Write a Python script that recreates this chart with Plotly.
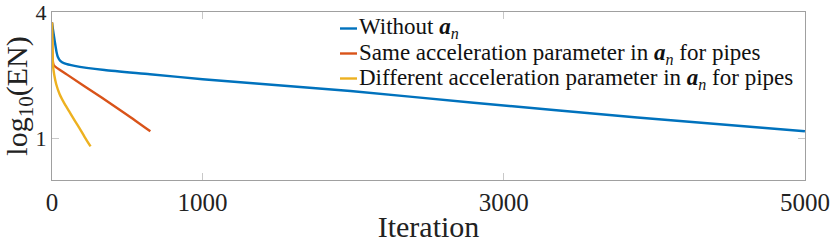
import plotly.graph_objects as go

# Data
blue_x = [0, 10, 19, 30, 39, 55, 83, 150, 349, 650, 1000, 1982, 2800, 3887, 5000]
blue_y = [3.75, 3.5, 3.29, 3.05, 2.93, 2.84, 2.78, 2.72, 2.62, 2.52, 2.40, 2.12, 1.84, 1.49, 1.16]

red_x = [0, 5, 12, 100, 327, 500, 653]
red_y = [3.75, 2.85, 2.73, 2.51, 1.97, 1.55, 1.16]

yellow_x = [0, 3, 6, 15, 28, 50, 83, 120, 150, 185, 216, 256]
yellow_y = [3.75, 3.2, 2.75, 2.5, 2.28, 2.05, 1.82, 1.6, 1.42, 1.22, 1.03, 0.80]

names = [
    "Without <b><i>a</i></b><sub><i>n</i></sub>",
    "Same acceleration parameter in <b><i>a</i></b><sub><i>n</i></sub> for pipes",
    "Different acceleration parameter in <b><i>a</i></b><sub><i>n</i></sub> for pipes",
]
colors = ["#0072BD", "#D95319", "#EDB120"]

x_ticks = [0, 1000, 3000, 5000]
y_ticks = [1, 4]

FONT = "Liberation Serif, serif"
W, H = 830, 243
L, R, T, B = 52, 25, 12, 63
PW, PH = W - L - R, H - T - B


def px_x(px):
    return (px - L) / PW


def px_y(py):
    return (H - B - py) / PH


fig = go.Figure()
for xs, ys, nm, c in zip([blue_x, red_x, yellow_x], [blue_y, red_y, yellow_y], names, colors):
    fig.add_trace(go.Scatter(x=xs, y=ys, mode="lines", name=nm, showlegend=False,
                             line=dict(color=c, width=2.4, shape="spline", smoothing=0.6)))

# Legend drawn as paper-space annotations (short MATLAB-style line samples)
row_y = [28.5, 53.5, 78.5]
for nm, c, ry in zip(names, colors, row_y):
    fig.add_shape(type="line", xref="paper", yref="paper",
                  x0=px_x(340), x1=px_x(357), y0=px_y(ry), y1=px_y(ry),
                  line=dict(color=c, width=2.4))
    fig.add_annotation(xref="paper", yref="paper", x=px_x(357), y=px_y(ry),
                       xanchor="left", yanchor="middle", showarrow=False, text=nm,
                       font=dict(family=FONT, size=23, color="#111111"))

axis_common = dict(showgrid=False, zeroline=False, showline=True, linecolor="#a0a0a0",
                   linewidth=1, mirror="ticks", ticks="inside", ticklen=7,
                   tickcolor="#c8c8c8", tickwidth=1, automargin=False,
                   ticklabeloverflow="allow")

fig.update_layout(
    width=W, height=H,
    margin=dict(l=L, r=R, t=T, b=B),
    paper_bgcolor="white", plot_bgcolor="white",
    font=dict(family=FONT, color="#222222"),
    showlegend=False,
    xaxis=dict(range=[0, 5000.5], tickvals=x_ticks, ticktext=[str(v) for v in x_ticks],
               tickfont=dict(family=FONT, size=25, color="#222222"),
               title=dict(text="Iteration", font=dict(family=FONT, size=30, color="#222222"), standoff=2),
               **axis_common),
    yaxis=dict(range=[0, 4.002], tickvals=y_ticks, ticktext=[str(v) for v in y_ticks],
               tickfont=dict(family=FONT, size=22, color="#222222"),
               title=dict(text="log<sub>10</sub>(EN)", font=dict(family=FONT, size=30, color="#222222"), standoff=2),
               **axis_common),
)

fig.write_html("out.html", config={"displayModeBar": False},
               post_script="document.body.style.margin='0px';document.body.style.overflow='hidden';")
